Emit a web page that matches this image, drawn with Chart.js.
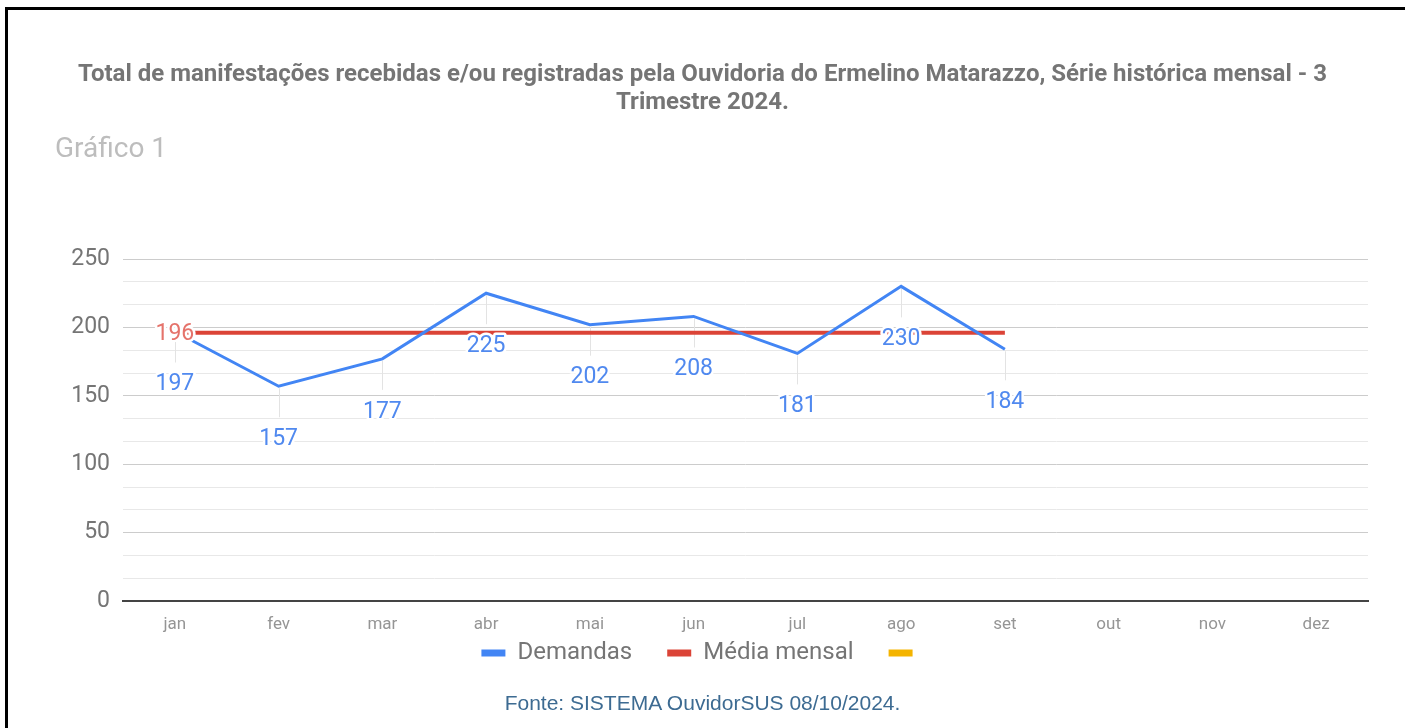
<!DOCTYPE html>
<html lang="pt-BR">
<head>
<meta charset="utf-8">
<title>Gráfico 1</title>
<script src="https://cdn.jsdelivr.net/npm/chart.js"></script>
<style>
  html, body { margin: 0; padding: 0; background: #fff; }
  #wrap { position: relative; width: 1405px; height: 728px; overflow: hidden; }
  #moldura { position: absolute; left: 5px; top: 7px; right: -10px; bottom: -10px;
             border-left: 3px solid #000; border-top: 3px solid #000; }
  #titulo { position: absolute; left: 0; top: 59px; width: 1405px; text-align: center;
            font: bold 24px Roboto, sans-serif; line-height: 28px; color: #757575; }
  #sub { position: absolute; left: 55px; top: 132px; font: 28px Roboto, sans-serif;
         line-height: 32px; color: #bdbdbd; }
  #fonte { position: absolute; left: 0; top: 691px; width: 1405px; text-align: center;
           font: 21px "Liberation Sans", Arial, sans-serif; line-height: 24px; color: #3d6b92; }
  #grafico { position: absolute; left: 0; top: 0; }
</style>
</head>
<body>
<div id="wrap">
  <div id="moldura"></div>
  <canvas id="grafico" width="1405" height="728"></canvas>
  <div id="titulo">Total de manifestações recebidas e/ou registradas pela Ouvidoria do Ermelino Matarazzo, Série histórica mensal - 3<br>Trimestre 2024.</div>
  <div id="sub">Gráfico 1</div>
  <div id="fonte">Fonte: SISTEMA OuvidorSUS 08/10/2024.</div>
</div>
<script>
// dados
const meses = ['jan', 'fev', 'mar', 'abr', 'mai', 'jun', 'jul', 'ago', 'set', 'out', 'nov', 'dez'];
const demandas = [197, 157, 177, 225, 202, 208, 181, 230, 184, null, null, null];
const mediaMensal = [196, 196, 196, 196, 196, 196, 196, 196, 196, null, null, null];
const terceira = [null, null, null, null, null, null, null, null, null, null, null, null];
const escalaY = { min: 0, max: 250, passo: 50 };

const ehMultiplo = v => Math.abs(v / escalaY.passo - Math.round(v / escalaY.passo)) < 1e-6;

// rótulos de valor com haste, estilo google charts
const rotulos = {
    id: 'rotulos',
    afterLayout(chart) {
        // sobe a legenda para perto do eixo (o padding grande é só para o espaçamento horizontal)
        chart.legend.top -= 26;
        chart.legend.bottom -= 26;
    },
    beforeDatasetsDraw(chart) {
        const ctx = chart.ctx;
        const meta = chart.getDatasetMeta(0);
        ctx.save();
        ctx.strokeStyle = '#e3e3e3';
        ctx.lineWidth = 1;
        meta.data.forEach((p, i) => {
            if (demandas[i] == null) return;
            const x = Math.round(p.x) + 0.5;
            ctx.beginPath();
            ctx.moveTo(x, p.y + 2);
            ctx.lineTo(x, p.y + 31);
            ctx.stroke();
        });
        ctx.restore();
    },
    afterDatasetsDraw(chart) {
        const ctx = chart.ctx;
        ctx.save();
        ctx.font = '23px Roboto';
        ctx.textAlign = 'center';
        ctx.textBaseline = 'middle';
        ctx.lineJoin = 'round';
        ctx.lineWidth = 5;
        ctx.strokeStyle = '#ffffff';
        const escrever = (txt, x, y, cor) => {
            ctx.strokeText(txt, x, y);
            ctx.fillStyle = cor;
            ctx.fillText(txt, x, y);
        };
        chart.getDatasetMeta(0).data.forEach((p, i) => {
            if (demandas[i] == null) return;
            escrever(String(demandas[i]), p.x, p.y + 53, '#5089ef');
        });
        // só o primeiro ponto da média leva rótulo
        const p0 = chart.getDatasetMeta(1).data[0];
        escrever(String(mediaMensal[0]), p0.x, p0.y + 1, '#e5736b');
        ctx.restore();
    }
};

const ctx = document.getElementById('grafico').getContext('2d');
const myChart = new Chart(ctx, {
    type: 'line',
    data: {
        labels: meses,
        datasets: [
            { label: 'Demandas', data: demandas, borderColor: '#4285f4', backgroundColor: '#4285f4',
              borderWidth: 3, pointRadius: 0, tension: 0 },
            { label: 'Média mensal', data: mediaMensal, borderColor: '#db4437', backgroundColor: '#db4437',
              borderWidth: 4, pointRadius: 0, tension: 0 },
            { label: '', data: terceira, borderColor: '#f4b400', backgroundColor: '#f4b400',
              borderWidth: 3, pointRadius: 0 }
        ]
    },
    options: {
        responsive: false,
        animation: false,
        layout: { padding: { left: 38, right: 37, top: 259, bottom: 27 } },
        plugins: {
            title: { display: false },
            tooltip: { enabled: false },
            legend: {
                position: 'bottom',
                labels: {
                    boxWidth: 24,
                    boxHeight: 7,
                    padding: 35,
                    color: '#757575',
                    font: { family: 'Roboto', size: 24 },
                    generateLabels: chart =>
                        Chart.defaults.plugins.legend.labels.generateLabels(chart)
                            .map(l => ({ ...l, lineWidth: 0 }))
                }
            }
        },
        scales: {
            x: {
                offset: true,
                grid: { display: false, drawTicks: false },
                border: { display: true, color: '#444444', width: 2 },
                ticks: { color: '#959595', font: { family: 'Roboto', size: 17 }, padding: 14,
                         autoSkip: false, maxRotation: 0 },
                afterFit: s => { s.height = 31; }
            },
            y: {
                min: escalaY.min,
                max: escalaY.max,
                grid: {
                    drawTicks: false,
                    color: c => Math.abs(c.tick.value) < 1e-6 ? 'rgba(0,0,0,0)'
                        : (ehMultiplo(c.tick.value) ? '#cccccc' : '#e8e8e8')
                },
                border: { display: false },
                ticks: {
                    stepSize: escalaY.passo / 3,
                    maxTicksLimit: 30,
                    autoSkip: false,
                    padding: 13,
                    color: '#757575',
                    font: { family: 'Roboto', size: 23 },
                    callback: v => ehMultiplo(v) ? String(Math.round(v)) : ''
                },
                afterFit: s => { s.width = 85; }
            }
        }
    },
    plugins: [rotulos]
});
</script>
</body>
</html>
